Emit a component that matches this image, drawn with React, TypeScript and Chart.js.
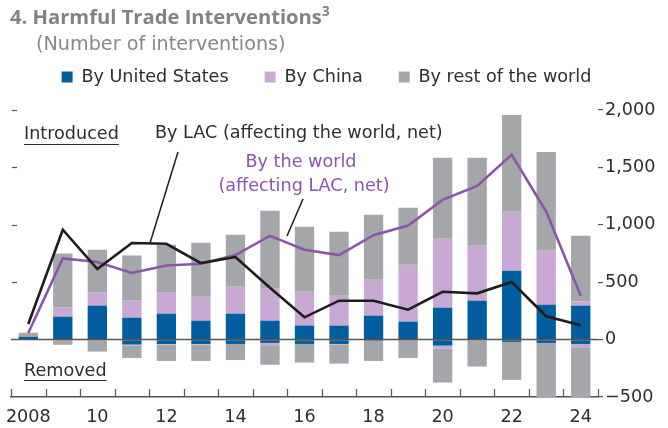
import { useEffect, useRef } from 'react';
import { Chart, registerables } from 'chart.js';

Chart.register(...registerables);

const years = ['2008', '2009', '2010', '2011', '2012', '2013', '2014', '2015', '2016', '2017', '2018', '2019', '2020', '2021', '2022', '2023', '2024'];
const xTickLabels = ['2008', '', '10', '', '12', '', '14', '', '16', '', '18', '', '20', '', '22', '', '24'];

const usIntroduced = [25, 200, 296, 191, 226, 165, 226, 165, 122, 122, 209, 157, 278, 339, 600, 304, 296];
const chinaIntroduced = [0, 79, 113, 148, 183, 209, 235, 278, 295, 261, 313, 495, 600, 478, 513, 470, 37];
const restIntroduced = [35, 470, 374, 394, 417, 469, 452, 679, 566, 556, 565, 496, 705, 766, 844, 861, 571];

const usRemoved = [0, 0, 0, -43, -38, -38, -38, -29, -38, -38, -10, 0, -52, -5, -20, -29, -38];
const chinaRemoved = [0, 0, 0, -11, -5, -5, 0, -20, 0, -4, 0, -4, -26, 0, 0, 0, -34];
const restRemoved = [0, -45, -104, -106, -143, -143, -140, -170, -162, -167, -176, -156, -296, -230, -331, -665, -525];

const lacNet = [136, 957, 615, 841, 835, 667, 719, 452, 194, 339, 339, 261, 417, 403, 502, 203, 125];
const worldNet = [58, 707, 676, 580, 646, 661, 736, 904, 783, 736, 910, 994, 1217, 1339, 1609, 1116, 383];

const yTicks = [-500, 0, 500, 1000, 1500, 2000];

const BLUE = '#005d9e';
const PINK = '#c9a9d3';
const GRAY = '#a5a6a9';
const PURPLE = '#8a57a8';
const BLACK = '#1e1c1d';
const TEXT = '#2e2e2e';
const AXIS = '#555555';
const FONT = '"DejaVu Sans"';
const FS = 17.6;
const LEG_PAD = 36;
const LEG_TOP = 77 - LEG_PAD - FS / 2;
const LEG_SHIFT = -13;

const legendPlugin = {
  id: 'legendFit',
  beforeInit(chart: any) {
    const orig = chart.legend.fit;
    chart.legend.fit = function () {
      orig.call(this);
      this.height = 110 - LEG_TOP;
    };
  },
  afterLayout(chart: any) {
    chart.legend.left += LEG_SHIFT;
    chart.legend.right += LEG_SHIFT;
  },
};

const decorPlugin = {
  id: 'decor',
  afterDatasetsDraw(chart: any) {
    const { ctx, chartArea, scales } = chart;
    const y = scales.y;
    ctx.save();
    const y0 = y.getPixelForValue(0);
    ctx.strokeStyle = AXIS;
    ctx.lineWidth = 1.5;
    ctx.beginPath();
    ctx.moveTo(chartArea.left, y0);
    ctx.lineTo(chartArea.right, y0);
    ctx.stroke();
    ctx.restore();
  },
  afterDraw(chart: any) {
    const { ctx, chartArea, scales } = chart;
    const y = scales.y;
    ctx.save();
    ctx.strokeStyle = AXIS;
    ctx.lineWidth = 1.2;
    const n = years.length;
    const step = (chartArea.right - chartArea.left) / n;
    for (let i = 0; i <= n; i++) {
      const px = Math.round(chartArea.left + i * step) + 0.5;
      ctx.beginPath();
      ctx.moveTo(px, chartArea.bottom);
      ctx.lineTo(px, chartArea.bottom - 8);
      ctx.stroke();
    }
    for (const v of [500, 1000, 1500, 2000]) {
      const py = Math.round(y.getPixelForValue(v)) + 0.5;
      ctx.beginPath();
      ctx.moveTo(chartArea.left + 1, py);
      ctx.lineTo(chartArea.left + 6, py);
      ctx.stroke();
    }

    ctx.font = `${FS}px ${FONT}`;
    ctx.textBaseline = 'middle';
    ctx.fillStyle = TEXT;
    ctx.textAlign = 'left';
    ctx.fillText('Introduced', 24, 134);
    let w = ctx.measureText('Introduced').width;
    ctx.strokeStyle = TEXT;
    ctx.lineWidth = 1;
    ctx.beginPath();
    ctx.moveTo(24, 144.5);
    ctx.lineTo(24 + w, 144.5);
    ctx.stroke();

    ctx.fillText('Removed', 24, 371);
    w = ctx.measureText('Removed').width;
    ctx.beginPath();
    ctx.moveTo(24, 380.5);
    ctx.lineTo(24 + w, 380.5);
    ctx.stroke();

    ctx.fillText('By LAC (affecting the world, net)', 155, 133);
    ctx.strokeStyle = BLACK;
    ctx.lineWidth = 1.5;
    ctx.beginPath();
    ctx.moveTo(178, 152);
    ctx.lineTo(150, 243);
    ctx.stroke();

    ctx.fillStyle = PURPLE;
    ctx.textAlign = 'center';
    ctx.fillText('By the world', 301, 162);
    ctx.fillText('(affecting LAC, net)', 304, 186);
    ctx.strokeStyle = BLACK;
    ctx.beginPath();
    ctx.moveTo(303, 199);
    ctx.lineTo(287, 236);
    ctx.stroke();
    ctx.restore();
  },
};

export default function App() {
  const ref = useRef<HTMLCanvasElement>(null);
  useEffect(() => {
    document.body.style.margin = '0';
    const barCommon = {
      type: 'bar' as const,
      stack: 'bars',
      barPercentage: 0.56,
      categoryPercentage: 1,
      order: 2,
    };
    const chart = new Chart(ref.current as HTMLCanvasElement, {
      type: 'bar',
      data: {
        labels: years,
        datasets: [
          { ...barCommon, label: 'By United States', data: usIntroduced, backgroundColor: BLUE },
          { ...barCommon, label: 'By China', data: chinaIntroduced, backgroundColor: PINK },
          { ...barCommon, label: 'By rest of the world', data: restIntroduced, backgroundColor: GRAY },
          { ...barCommon, label: 'US removed', data: usRemoved, backgroundColor: BLUE },
          { ...barCommon, label: 'China removed', data: chinaRemoved, backgroundColor: PINK },
          { ...barCommon, label: 'Rest removed', data: restRemoved, backgroundColor: GRAY },
          {
            type: 'line' as const,
            label: 'By the world (affecting LAC, net)',
            data: worldNet,
            stack: 'world',
            borderColor: PURPLE,
            borderWidth: 2.6,
            pointRadius: 0,
            tension: 0,
            order: 1,
          },
          {
            type: 'line' as const,
            label: 'By LAC (affecting the world, net)',
            data: lacNet,
            stack: 'lac',
            borderColor: BLACK,
            borderWidth: 2.6,
            pointRadius: 0,
            tension: 0,
            order: 0,
          },
        ] as any,
      },
      options: {
        responsive: false,
        animation: false,
        layout: { padding: { left: 11, top: LEG_TOP, right: 0, bottom: 0 } },
        plugins: {
          tooltip: { enabled: false },
          legend: {
            display: true,
            position: 'top',
            labels: {
              filter: (item: any) => item.datasetIndex < 3,
              boxWidth: 11,
              boxHeight: 11,
              padding: LEG_PAD,
              color: TEXT,
              font: { family: FONT, size: FS },
            },
          },
        },
        scales: {
          x: {
            stacked: true,
            grid: { display: false },
            border: { display: true, color: AXIS, width: 1.5 },
            ticks: {
              autoSkip: false,
              maxRotation: 0,
              color: TEXT,
              padding: 2,
              font: { family: FONT, size: FS },
              callback: (_v: any, i: number) => xTickLabels[i],
            },
            afterFit: (axis: any) => {
              axis.height = 31;
            },
          },
          y: {
            stacked: true,
            position: 'right',
            min: -500,
            max: 2000,
            afterBuildTicks: (axis: any) => {
              axis.ticks = yTicks.map((v) => ({ value: v }));
            },
            grid: { drawOnChartArea: false, tickLength: 5, color: AXIS, lineWidth: 1.2 },
            border: { display: false },
            ticks: {
              color: TEXT,
              padding: 2,
              font: { family: FONT, size: FS },
              callback: (v: any) => (v < 0 ? '\u2212' + Math.abs(v) : Number(v).toLocaleString('en-US')),
            },
            afterFit: (axis: any) => {
              axis.width = 70;
            },
          },
        },
      },
      plugins: [legendPlugin, decorPlugin],
    });
    return () => chart.destroy();
  }, []);

  return (
    <div style={{ position: 'relative', width: 668, height: 428 }}>
      <canvas ref={ref} width={668} height={428} style={{ position: 'absolute', left: 0, top: 0 }} />
      <div style={{ position: 'absolute', left: 10, top: 3, fontFamily: '"Open Sans"', fontSize: 20.2, fontWeight: 700, color: '#808285', whiteSpace: 'nowrap', lineHeight: '26px' }}>
        4. Harmful Trade Interventions<sup style={{ fontSize: 13.5, verticalAlign: 'top', lineHeight: '16px' }}>3</sup>
      </div>
      <div style={{ position: 'absolute', left: 36, top: 32, fontFamily: FONT, fontSize: 19.2, color: '#85878a', whiteSpace: 'nowrap', lineHeight: '24px' }}>
        (Number of interventions)
      </div>
    </div>
  );
}
